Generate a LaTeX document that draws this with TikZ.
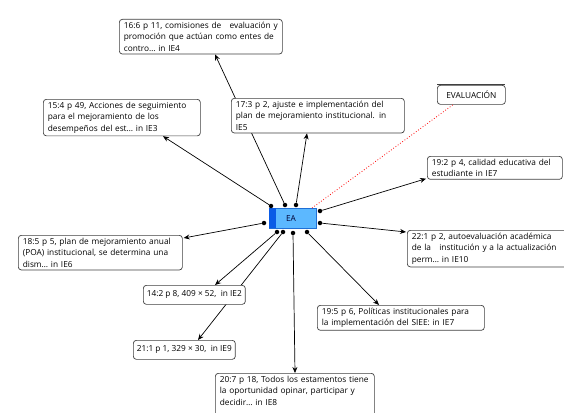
\documentclass[tikz,border=0pt]{standalone}
\usepackage{fontspec}
\setmainfont{Open Sans}
\usetikzlibrary{arrows.meta,calc}
\definecolor{eafill}{HTML}{5CB8FF}
\definecolor{eaborder}{HTML}{1F6FD6}
\definecolor{eastripe}{HTML}{0A5BE6}
\definecolor{boxline}{HTML}{404040}
\tikzset{
  txtbox/.style={draw=boxline, line width=0.7pt, rounded corners=3pt, fill=white,
    align=left, anchor=north west, inner xsep=4.5pt, inner ysep=2.5pt,
    font=\fontsize{8.3}{11.6}\selectfont},
  onebox/.style={draw=boxline, line width=0.7pt, rounded corners=3pt, fill=white,
    anchor=north west, inner xsep=3.5pt, inner ysep=3pt, minimum height=19pt,
    font=\fontsize{8.3}{11.6}\selectfont},
  conn/.style={line width=0.7pt, -{Stealth[length=6pt,width=5pt]}},
  dot/.style={circle, fill=black, inner sep=0pt, minimum size=4.5pt},
}
\begin{document}
\begin{tikzpicture}[x=1pt,y=-1pt]
\useasboundingbox (0,0) rectangle (564,412);
\begin{scope}
\clip (0,0) rectangle (564,412);
% EA central node
\node[draw=eaborder, line width=0.7pt, fill=eafill, minimum width=47pt, minimum height=20pt, anchor=north west, inner sep=0pt] (ea) at (269,208) {};
\fill[eastripe] (269.4,208.4) rectangle (276,227.6);
\node[font=\fontsize{8.3}{10}\selectfont, text=black!80!blue] at (291,218.5) {EA};
% dots on EA
\node[dot] (d1) at (285,205) {};
\node[dot] (d2) at (296,205) {};
\node[dot] (d3) at (271,206) {};
\node[dot] (d4) at (264,223) {};
\node[dot] (d5) at (320,211) {};
\node[dot] (d6) at (320,223) {};
\node[dot] (d7) at (277,232) {};
\node[dot] (d8) at (283,232) {};
\node[dot] (d9) at (293,233) {};
\node[dot] (d10) at (307,232) {};
\coordinate (eacorner) at (312,208);

% boxes (a drawn first so that c lies over its connector)
\node[txtbox, text width=154pt] (a) at (119,19) {16:6 p 11, comisiones de \ \ evaluación y\\promoción que actúan como entes de\\contro… in IE4};
\draw[conn] (d1) -- ($(a.south west)+(96,0)$);
\node[txtbox, text width=148pt] (b) at (43,99) {15:4 p 49, Acciones de seguimiento\\para el mejoramiento de los\\desempeños del est… in IE3};
\node[txtbox, text width=164pt] (c) at (231,98) {17:3 p 2, ajuste e implementación del\\plan de mejoramiento institucional. in\\IE5};
% EVALUACION
\node[draw=boxline, line width=0.7pt, rounded corners=3pt, fill=white, anchor=north west, minimum width=68pt, minimum height=19pt, inner sep=0pt, font=\fontsize{8.3}{10}\selectfont] (ev) at (437,85) {EVALUACIÓN};
\draw[boxline, line width=0.7pt] (437,84) -- (505,84);
\node[txtbox, text width=126pt] (e) at (427,156) {19:2 p 4, calidad educativa del\\estudiante in IE7};
\node[txtbox, text width=155pt] (f) at (18,235) {18:5 p 5, plan de mejoramiento anual\\(POA) institucional, se determina una\\dism… in IE6};
\node[txtbox, text width=160pt] (g) at (407,230) {22:1 p 2, autoevaluación académica\\de la \ \ institución y a la actualización\\perm… in IE10};
\node[txtbox, text width=158pt] (j) at (317,305) {19:5 p 6, Políticas institucionales para\\la implementación del SIEE: in IE7};
\node[txtbox, text width=150pt] (k) at (215,373) {20:7 p 18, Todos los estamentos tiene\\la oportunidad opinar, participar y\\decidir… in IE8\\\strut};

% connectors
\draw[conn] (d2) -- ($(c.south west)+(76,0)$);
\draw[conn] (d3) -- ($(b.south west)+(120,0)$);
\draw[red, dotted, line width=0.8pt] (eacorner) -- ($(ev.south west)+(16,0)$);
\draw[conn] (d5) -- ($(e.south west)+(-1,-1)$);
\draw[conn] (d4) -- ($(f.north east)+(1,3)$);
\draw[conn] (d6) -- ($(g.north west)+(-1,2)$);
\draw[conn] (d8) -- (198,340) coordinate (itop);
\draw[conn] (d10) -- ($(j.north west)+(62,0)$);
\draw[conn] (d9) -- ($(k.north west)+(80,0)$);
\node[onebox] (h) at (143,285) {14:2 p 8, 409 × 52, \ in IE2};
\draw[conn] (d7) -- ($(h.north west)+(72,0)$);
\node[onebox] (i) at (133,340) {21:1 p 1, 329 × 30, \ in IE9};
\end{scope}
\end{tikzpicture}
\end{document}
